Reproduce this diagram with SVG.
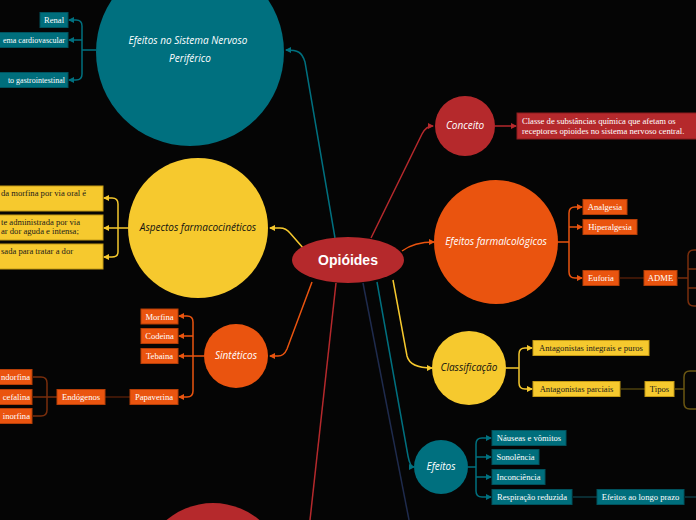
<svg xmlns="http://www.w3.org/2000/svg" width="696" height="520" viewBox="0 0 696 520">
<defs>
<style>
.bt{font-family:"Liberation Serif",serif;font-size:8.6px;fill:#fff}
.bd{font-family:"Liberation Serif",serif;font-size:8.6px;fill:#1a1a1a}
.ct{font-family:"Open Sans","Liberation Sans",sans-serif;font-style:italic;font-size:10px;fill:#fff;text-anchor:middle}
.cd{font-family:"Open Sans","Liberation Sans",sans-serif;font-style:italic;font-size:10px;fill:#111;text-anchor:middle}
.tealb{fill:#006e7c;stroke:#00525d;stroke-width:1}
.orb{fill:#ea540f;stroke:#b53e07;stroke-width:1}
.yeb{fill:#f6c92e;stroke:#c49a14;stroke-width:1}
.redb{fill:#b5292c;stroke:#8a1c1e;stroke-width:1}
.l{fill:none;stroke-width:1.5}
.lt{stroke:#00707f}.lo{stroke:#ea540f}.ly{stroke:#f6c92e}.lr{stroke:#b5292c}
</style>
<marker id="at" markerWidth="6" markerHeight="6" refX="5" refY="3" orient="auto" markerUnits="userSpaceOnUse"><path d="M0,0 L6,3 L0,6 z" fill="#00707f"/></marker>
<marker id="ao" markerWidth="6" markerHeight="6" refX="5" refY="3" orient="auto" markerUnits="userSpaceOnUse"><path d="M0,0 L6,3 L0,6 z" fill="#ea540f"/></marker>
<marker id="ay" markerWidth="6" markerHeight="6" refX="5" refY="3" orient="auto" markerUnits="userSpaceOnUse"><path d="M0,0 L6,3 L0,6 z" fill="#f6c92e"/></marker>
<marker id="ar" markerWidth="6" markerHeight="6" refX="5" refY="3" orient="auto" markerUnits="userSpaceOnUse"><path d="M0,0 L6,3 L0,6 z" fill="#b5292c"/></marker>
</defs>
<rect width="696" height="520" fill="#050505"/>

<g id="connectors">
<path class="l lt" d="M335,238 L305,62 C302,52 298,50 286,50" marker-end="url(#at)"/>
<path class="l lr" d="M371,238 L422,134 Q426,126 433,126" marker-end="url(#ar)"/>
<path class="l lo" d="M402,251 Q414,242 434,242" marker-end="url(#ao)"/>
<path class="l ly" d="M304,249 L290,233 Q286,228 280,228 H270" marker-end="url(#ay)"/>
<path class="l lo" d="M312,282 L287,349 Q284,356 278,356 H270" marker-end="url(#ao)"/>
<path class="l lr" d="M336,283 L310,520"/>
<path class="l" stroke="#1f2b4d" d="M363,283 L409,520"/>
<path class="l lt" d="M377,282 L408,456 Q410,467 414,467" marker-end="url(#at)"/>
<path class="l ly" d="M393,280 L407,356 Q410,368 432,368" marker-end="url(#ay)"/>

<path class="l lt" d="M96,50 H82"/>
<path class="l lt" d="M82,26 Q82,20 76,20 H69" marker-end="url(#at)"/>
<path class="l lt" d="M82,40 H69" marker-end="url(#at)"/>
<path class="l lt" d="M82,74 Q82,80 76,80 H69" marker-end="url(#at)"/>
<path class="l lt" d="M82,26 V74"/>

<path class="l ly" d="M128,228 H118"/>
<path class="l ly" d="M118,204 Q118,198 112,198 H104" marker-end="url(#ay)"/>
<path class="l ly" d="M118,228 H104" marker-end="url(#ay)"/>
<path class="l ly" d="M118,252 Q118,257 112,257 H104" marker-end="url(#ay)"/>
<path class="l ly" d="M118,204 V252"/>

<path class="l lo" d="M204,356 H193"/>
<path class="l lo" d="M193,322 Q193,316 187,316 H179" marker-end="url(#ao)"/>
<path class="l lo" d="M193,336 H179" marker-end="url(#ao)"/>
<path class="l lo" d="M193,356 H179" marker-end="url(#ao)"/>
<path class="l lo" d="M193,391 Q193,397 187,397 H179" marker-end="url(#ao)"/>
<path class="l lo" d="M193,322 V391"/>
<path class="l" stroke="#4f1d08" d="M130,397 H105"/>
<path class="l" stroke="#7a2e0c" d="M57,397 H47 M33,377 H41 Q47,377 47,383 V410 Q47,416 41,416 H33 M47,397 H33"/>

<path class="l lr" d="M495,126 H516" marker-end="url(#ar)"/>

<path class="l lo" d="M558,242 H569"/>
<path class="l lo" d="M569,213 Q569,207 575,207 H582" marker-end="url(#ao)"/>
<path class="l lo" d="M569,227 H582" marker-end="url(#ao)"/>
<path class="l lo" d="M569,272 Q569,278 575,278 H582" marker-end="url(#ao)"/>
<path class="l lo" d="M569,213 V272"/>
<path class="l" stroke="#4f1d08" d="M620,278 H644"/>
<path class="l" stroke="#7a2e0c" d="M678,278 H688 M696,250 H694 Q688,250 688,256 V300 Q688,306 694,306 H696 M688,269 H696 M688,288 H696"/>

<path class="l ly" d="M506,368 H519"/>
<path class="l ly" d="M519,354 Q519,348 525,348 H532" marker-end="url(#ay)"/>
<path class="l ly" d="M519,383 Q519,389 525,389 H532" marker-end="url(#ay)"/>
<path class="l ly" d="M519,354 V383"/>
<path class="l" stroke="#4d400e" d="M621,389 H645"/>
<path class="l" stroke="#6b5712" d="M675,389 H684 M696,371 H690 Q684,371 684,377 V403 Q684,409 690,409 H696"/>

<path class="l lt" d="M468,467 H476"/>
<path class="l lt" d="M476,444 Q476,438 482,438 H491" marker-end="url(#at)"/>
<path class="l lt" d="M476,457 H491" marker-end="url(#at)"/>
<path class="l lt" d="M476,477 H491" marker-end="url(#at)"/>
<path class="l lt" d="M476,491 Q476,497 482,497 H491" marker-end="url(#at)"/>
<path class="l lt" d="M476,444 V491"/>
<path class="l" stroke="#0d3a41" d="M573,497 H597 M685,497 H696"/>
</g>

<g id="central"><ellipse cx="348" cy="260" rx="56" ry="23" fill="#b5292c"/><text x="348" y="265" text-anchor="middle" font-family="'Liberation Sans',sans-serif" font-weight="bold" font-size="14" fill="#fff">Opióides</text></g>

<g id="snp"><circle cx="190" cy="52" r="94" fill="#00707f"/><text class="ct" x="188" y="44">Efeitos no Sistema Nervoso</text><text class="ct" x="190" y="62">Periférico</text></g>
<g id="renal"><rect class="tealb" x="40" y="12.5" width="28" height="15"/><text class="bt" x="54" y="23" text-anchor="middle">Renal</text></g>
<g id="cardio"><rect class="tealb" x="-2" y="32.5" width="70" height="15"/><text class="bt" x="65" y="43" text-anchor="end" style="font-size:8px">ema cardiovascular</text></g>
<g id="gastro"><rect class="tealb" x="-2" y="72.5" width="70" height="15"/><text class="bt" x="65" y="83" text-anchor="end" style="font-size:8px">to gastrointestinal</text></g>

<g id="aspectos"><circle cx="198" cy="228" r="70" fill="#f6c92e"/><text class="cd" x="198" y="231">Aspectos farmacocinéticos</text></g>
<g id="asp1"><rect class="yeb" x="-2" y="186" width="105" height="25"/><text class="bd" x="1" y="196">da morfina por via oral é</text></g>
<g id="asp2"><rect class="yeb" x="-2" y="215" width="105" height="25"/><text class="bd" x="1" y="225">te administrada por via</text><text class="bd" x="1" y="234">ar dor aguda e intensa;</text></g>
<g id="asp3"><rect class="yeb" x="-2" y="244" width="105" height="25"/><text class="bd" x="1" y="254">sada para tratar a dor</text></g>

<g id="sinteticos"><circle cx="236" cy="356" r="32" fill="#ea540f"/><text class="ct" x="236" y="359">Sintéticos</text></g>
<g id="morfina"><rect class="orb" x="141" y="309" width="37" height="15"/><text class="bt" x="159.5" y="319.5" text-anchor="middle">Morfina</text></g>
<g id="codeina"><rect class="orb" x="141" y="328.5" width="37" height="15"/><text class="bt" x="159.5" y="339" text-anchor="middle">Codeina</text></g>
<g id="tebaina"><rect class="orb" x="141" y="348.5" width="37" height="15"/><text class="bt" x="159.5" y="359" text-anchor="middle">Tebaina</text></g>
<g id="papaverina"><rect class="orb" x="130" y="389.5" width="48" height="15"/><text class="bt" x="154" y="400" text-anchor="middle">Papaverina</text></g>
<g id="endogenos"><rect class="orb" x="57" y="389.5" width="48" height="15"/><text class="bt" x="81" y="400" text-anchor="middle">Endógenos</text></g>
<g id="endorfina"><rect class="orb" x="-2" y="369.5" width="34" height="15"/><text class="bt" x="30" y="380" text-anchor="end">ndorfina</text></g>
<g id="encefalina"><rect class="orb" x="-2" y="389.5" width="34" height="15"/><text class="bt" x="30" y="400" text-anchor="end">cefalina</text></g>
<g id="dinorfina"><rect class="orb" x="-2" y="408.5" width="34" height="15"/><text class="bt" x="30" y="419" text-anchor="end">inorfina</text></g>

<g id="conceito"><circle cx="465" cy="126" r="30" fill="#b5292c"/><text class="ct" x="465" y="129">Conceito</text></g>
<g id="classe"><rect class="redb" x="517" y="113" width="181" height="26"/><text class="bt" x="522" y="123.5">Classe de substâncias química que afetam os</text><text class="bt" x="522" y="133.5">receptores opioides no sistema nervoso central.</text></g>

<g id="efarm"><circle cx="496" cy="242" r="62" fill="#ea540f"/><text class="ct" x="496" y="245">Efeitos farmalcológicos</text></g>
<g id="analgesia"><rect class="orb" x="583" y="199.5" width="44" height="15"/><text class="bt" x="605" y="210" text-anchor="middle">Analgesia</text></g>
<g id="hiperalgesia"><rect class="orb" x="583" y="219.5" width="54" height="15"/><text class="bt" x="610" y="230" text-anchor="middle">Hiperalgesia</text></g>
<g id="euforia"><rect class="orb" x="583" y="270.5" width="36" height="15"/><text class="bt" x="601" y="281" text-anchor="middle">Euforia</text></g>
<g id="adme"><rect class="orb" x="644" y="270.5" width="33" height="15"/><text class="bt" x="660.5" y="281" text-anchor="middle">ADME</text></g>

<g id="classificacao"><circle cx="469" cy="368" r="37" fill="#f6c92e"/><text class="cd" x="469" y="371">Classificação</text></g>
<g id="integrais"><rect class="yeb" x="533" y="340.5" width="116" height="15"/><text class="bd" x="591" y="351" text-anchor="middle">Antagonistas integrais e puros</text></g>
<g id="parciais"><rect class="yeb" x="533" y="381.5" width="87" height="15"/><text class="bd" x="576.5" y="392" text-anchor="middle">Antagonistas parciais</text></g>
<g id="tipos"><rect class="yeb" x="645" y="381.5" width="29" height="15"/><text class="bd" x="659.5" y="392" text-anchor="middle">Tipos</text></g>

<g id="efeitos"><circle cx="441" cy="467" r="27" fill="#00707f"/><text class="ct" x="441" y="470">Efeitos</text></g>
<g id="nauseas"><rect class="tealb" x="492" y="430.5" width="74" height="15"/><text class="bt" x="529" y="441" text-anchor="middle">Náuseas e vômitos</text></g>
<g id="sonolencia"><rect class="tealb" x="492" y="449.5" width="47" height="15"/><text class="bt" x="515.5" y="460" text-anchor="middle">Sonolência</text></g>
<g id="inconciencia"><rect class="tealb" x="492" y="469.5" width="53" height="15"/><text class="bt" x="518.5" y="480" text-anchor="middle">Inconciência</text></g>
<g id="respiracao"><rect class="tealb" x="492" y="489.5" width="80" height="15"/><text class="bt" x="532" y="500" text-anchor="middle">Respiração reduzida</text></g>
<g id="longoprazo"><rect class="tealb" x="597" y="489.5" width="87" height="15"/><text class="bt" x="640.5" y="500" text-anchor="middle">Efeitos ao longo prazo</text></g>

<g id="bottom"><circle cx="213" cy="575" r="72" fill="#b5292c"/></g>
</svg>
